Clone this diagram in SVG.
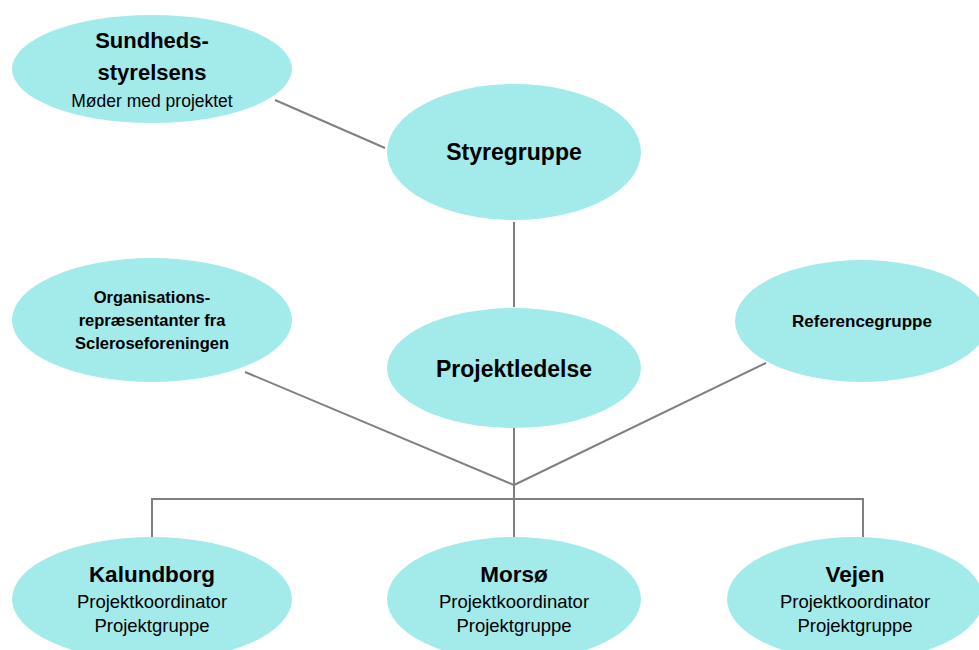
<svg xmlns="http://www.w3.org/2000/svg" width="979" height="650" viewBox="0 0 979 650">
<style>
.n{fill:#a3eaea;stroke:none}
.c{stroke:#808080;stroke-width:2;fill:none}
text{font-family:"Liberation Sans",Arial,sans-serif;fill:#000;text-anchor:middle}
.b{font-weight:bold}
</style>
<rect width="979" height="650" fill="#fff"/>
<g id="connectors">
<line class="c" x1="275" y1="100" x2="385" y2="148"/>
<line class="c" x1="514" y1="222" x2="514" y2="307"/>
<line class="c" x1="514" y1="428" x2="514" y2="537"/>
<line class="c" x1="245" y1="372" x2="514" y2="485"/>
<line class="c" x1="766" y1="363" x2="514" y2="485"/>
<polyline class="c" points="152,537 152,499 863,499 863,537"/>
</g>
<g id="sundheds">
<ellipse class="n" cx="152" cy="69" rx="140" ry="54"/>
<text class="b" x="152" y="48" font-size="22">Sundheds-</text>
<text class="b" x="152" y="80" font-size="22">styrelsens</text>
<text x="152" y="107" font-size="17.5">Møder med projektet</text>
</g>
<g id="styregruppe">
<ellipse class="n" cx="514" cy="152" rx="127" ry="68"/>
<text class="b" x="514" y="160" font-size="23">Styregruppe</text>
</g>
<g id="organisations">
<ellipse class="n" cx="152" cy="320" rx="140" ry="62"/>
<text class="b" x="152" y="303" font-size="16.5">Organisations-</text>
<text class="b" x="152" y="326" font-size="16.5">repræsentanter fra</text>
<text class="b" x="152" y="349" font-size="16.5">Scleroseforeningen</text>
</g>
<g id="projektledelse">
<ellipse class="n" cx="514" cy="368" rx="127" ry="60"/>
<text class="b" x="514" y="377" font-size="23">Projektledelse</text>
</g>
<g id="referencegruppe">
<ellipse class="n" cx="862" cy="321" rx="127" ry="61"/>
<text class="b" x="862" y="327" font-size="17">Referencegruppe</text>
</g>
<g id="kalundborg">
<ellipse class="n" cx="152" cy="599" rx="140" ry="62"/>
<text class="b" x="152" y="582" font-size="22.5">Kalundborg</text>
<text x="152" y="608" font-size="18.5">Projektkoordinator</text>
<text x="152" y="632" font-size="18.5">Projektgruppe</text>
</g>
<g id="morsoe">
<ellipse class="n" cx="514" cy="599" rx="127" ry="62"/>
<text class="b" x="514" y="582" font-size="22.5">Morsø</text>
<text x="514" y="608" font-size="18.5">Projektkoordinator</text>
<text x="514" y="632" font-size="18.5">Projektgruppe</text>
</g>
<g id="vejen">
<ellipse class="n" cx="855" cy="599" rx="128" ry="62"/>
<text class="b" x="855" y="582" font-size="22.5">Vejen</text>
<text x="855" y="608" font-size="18.5">Projektkoordinator</text>
<text x="855" y="632" font-size="18.5">Projektgruppe</text>
</g>
</svg>
